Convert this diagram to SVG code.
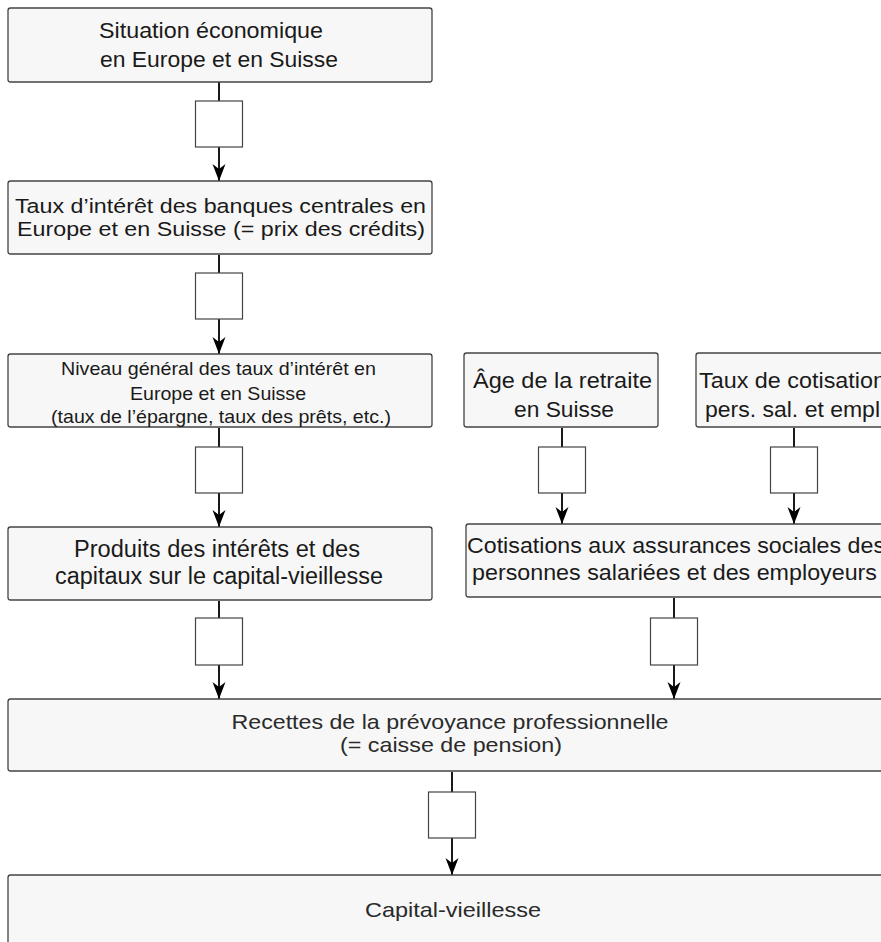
<svg xmlns="http://www.w3.org/2000/svg" width="881" height="942" viewBox="0 0 881 942">
<style>
.node{fill:#f7f7f7;stroke:#444;stroke-width:1.3}
.t{font-family:"Liberation Sans",Arial,sans-serif;fill:#1a1a1a;text-anchor:middle}
.tl{font-family:"Liberation Sans",Arial,sans-serif;fill:#1a1a1a;text-anchor:start}
.tlight{font-family:"Liberation Sans",Arial,sans-serif;fill:#2a2a2a;text-anchor:middle}
.edge{stroke:#000;stroke-width:1.8;fill:none;marker-end:url(#arr)}
.lbl{fill:#fff;stroke:#444;stroke-width:1.2}
</style>
<defs>
<marker id="arr" markerUnits="userSpaceOnUse" markerWidth="17" markerHeight="14" refX="17" refY="7" orient="auto" viewBox="0 0 17 14">
<path d="M0,0.5 L17,7 L0,13.5 L5,7 z" fill="#000"/>
</marker>
</defs>
<rect width="881" height="942" fill="#fff"/>

<g id="connectors">
<line class="edge" x1="219" y1="82" x2="219" y2="181"/>
<rect class="lbl" x="195.5" y="101" width="47" height="46"/>
<line class="edge" x1="219" y1="255" x2="219" y2="354"/>
<rect class="lbl" x="195.5" y="273" width="47" height="46"/>
<line class="edge" x1="219" y1="428" x2="219" y2="527"/>
<rect class="lbl" x="195.5" y="447" width="47" height="46"/>
<line class="edge" x1="562" y1="428" x2="562" y2="524"/>
<rect class="lbl" x="538.5" y="447" width="47" height="46"/>
<line class="edge" x1="794" y1="428" x2="794" y2="524"/>
<rect class="lbl" x="770.5" y="447" width="47" height="46"/>
<line class="edge" x1="219" y1="601" x2="219" y2="699"/>
<rect class="lbl" x="195.5" y="618" width="47" height="47"/>
<line class="edge" x1="674" y1="598" x2="674" y2="699"/>
<rect class="lbl" x="650.5" y="618" width="47" height="47"/>
<line class="edge" x1="452" y1="772" x2="452" y2="875"/>
<rect class="lbl" x="428.5" y="792" width="47" height="46"/>
</g>

<g id="n1">
<rect class="node" x="8" y="8" width="424" height="74" rx="2.5"/>
<text class="t" font-size="22" x="211" y="37.5" textLength="224" lengthAdjust="spacingAndGlyphs">Situation économique</text>
<text class="t" font-size="22" x="219" y="66.5" textLength="238" lengthAdjust="spacingAndGlyphs">en Europe et en Suisse</text>
</g>

<g id="n2">
<rect class="node" x="8" y="181" width="424" height="73" rx="2.5"/>
<text class="t" font-size="20.5" x="220.5" y="212.5" textLength="411" lengthAdjust="spacingAndGlyphs">Taux d’intérêt des banques centrales en</text>
<text class="t" font-size="20.5" x="221" y="235.5" textLength="408" lengthAdjust="spacingAndGlyphs">Europe et en Suisse (= prix des crédits)</text>
</g>

<g id="n3">
<rect class="node" x="8" y="354" width="424" height="73" rx="2.5"/>
<text class="t" font-size="18.5" x="218.5" y="375" textLength="315" lengthAdjust="spacingAndGlyphs">Niveau général des taux d’intérêt en</text>
<text class="t" font-size="18.5" x="218" y="399.5" textLength="176" lengthAdjust="spacingAndGlyphs">Europe et en Suisse</text>
<text class="t" font-size="18.5" x="221" y="423" textLength="340" lengthAdjust="spacingAndGlyphs">(taux de l’épargne, taux des prêts, etc.)</text>
</g>

<g id="n4">
<rect class="node" x="8" y="527" width="424" height="73" rx="2.5"/>
<text class="t" font-size="23" x="217" y="557" textLength="286" lengthAdjust="spacingAndGlyphs">Produits des intérêts et des</text>
<text class="t" font-size="23" x="219" y="584" textLength="328" lengthAdjust="spacingAndGlyphs">capitaux sur le capital-vieillesse</text>
</g>

<g id="n5">
<rect class="node" x="464" y="353" width="194" height="74" rx="2.5"/>
<text class="t" font-size="22" x="562.5" y="388" textLength="179" lengthAdjust="spacingAndGlyphs">Âge de la retraite</text>
<text class="t" font-size="22" x="564" y="417" textLength="100" lengthAdjust="spacingAndGlyphs">en Suisse</text>
</g>

<g id="n6">
<rect class="node" x="696" y="353" width="240" height="74" rx="2.5"/>
<text class="tl" font-size="22" x="699" y="388" textLength="187" lengthAdjust="spacingAndGlyphs">Taux de cotisation</text>
<text class="tl" font-size="22" x="705" y="417" textLength="175" lengthAdjust="spacingAndGlyphs">pers. sal. et empl</text>
</g>

<g id="n7">
<rect class="node" x="466" y="524" width="440" height="73" rx="2.5"/>
<text class="tl" font-size="22" x="467" y="553" textLength="418" lengthAdjust="spacingAndGlyphs">Cotisations aux assurances sociales des</text>
<text class="tl" font-size="22" x="472" y="580" textLength="405" lengthAdjust="spacingAndGlyphs">personnes salariées et des employeurs</text>
</g>

<g id="n8">
<rect class="node" x="8" y="699" width="890" height="72" rx="2.5"/>
<text class="tlight" font-size="21" x="450" y="729" textLength="437" lengthAdjust="spacingAndGlyphs">Recettes de la prévoyance professionnelle</text>
<text class="tlight" font-size="21" x="451" y="752" textLength="222" lengthAdjust="spacingAndGlyphs">(= caisse de pension)</text>
</g>

<g id="n9">
<rect class="node" x="8" y="875" width="890" height="90" rx="2.5"/>
<text class="tlight" font-size="21" x="453" y="917" textLength="176" lengthAdjust="spacingAndGlyphs">Capital-vieillesse</text>
</g>
</svg>
